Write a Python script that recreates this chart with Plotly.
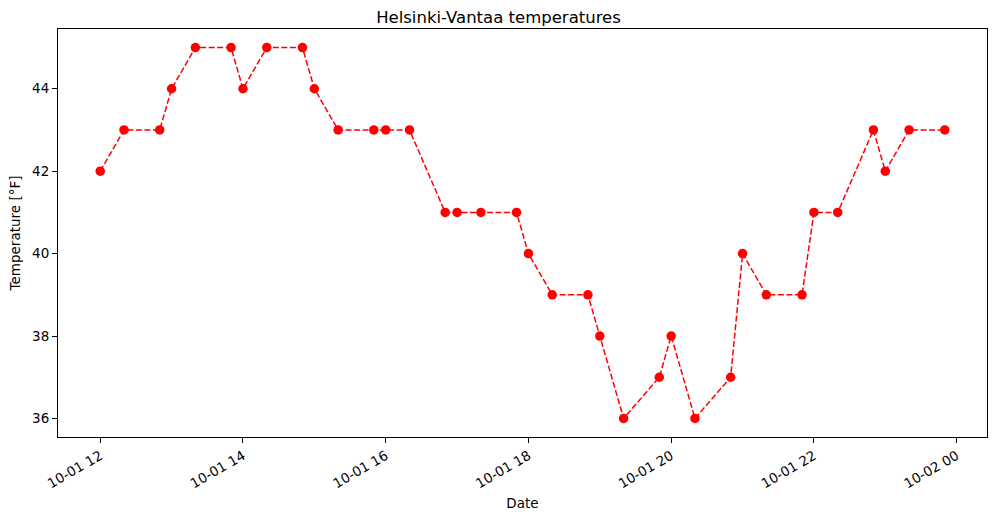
import plotly.graph_objects as go
import pandas as pd

times = ["2023-10-01 12:00", "2023-10-01 12:20", "2023-10-01 12:50", "2023-10-01 13:00",
         "2023-10-01 13:20", "2023-10-01 13:50", "2023-10-01 14:00", "2023-10-01 14:20",
         "2023-10-01 14:50", "2023-10-01 15:00", "2023-10-01 15:20", "2023-10-01 15:50",
         "2023-10-01 16:00", "2023-10-01 16:20", "2023-10-01 16:50", "2023-10-01 17:00",
         "2023-10-01 17:20", "2023-10-01 17:50", "2023-10-01 18:00", "2023-10-01 18:20",
         "2023-10-01 18:50", "2023-10-01 19:00", "2023-10-01 19:20", "2023-10-01 19:50",
         "2023-10-01 20:00", "2023-10-01 20:20", "2023-10-01 20:50", "2023-10-01 21:00",
         "2023-10-01 21:20", "2023-10-01 21:50", "2023-10-01 22:00", "2023-10-01 22:20",
         "2023-10-01 22:50", "2023-10-01 23:00", "2023-10-01 23:20", "2023-10-01 23:50"]
temps_f = [42, 43, 43, 44, 45, 45, 44, 45, 45, 44, 43, 43, 43, 43, 41, 41, 41, 41, 40, 39,
           39, 38, 36, 37, 38, 36, 37, 40, 39, 39, 41, 41, 43, 42, 43, 43]
y_ticks = [36, 38, 40, 42, 44]

t = pd.to_datetime(times)
span = t.max() - t.min()
x_range = [t.min() - span * 0.05, t.max() + span * 0.05]
ymin, ymax = min(temps_f), max(temps_f)
ypad = (ymax - ymin) * 0.05

font = "DejaVu Sans, Arial, sans-serif"

fig = go.Figure(go.Scatter(
    x=t, y=temps_f, mode="lines+markers",
    line=dict(color="#ff0000", dash="6px,2.5px", width=1.5),
    marker=dict(color="#ff0000", size=9.5),
))

fig.update_layout(
    width=997, height=520,
    margin=dict(l=58, r=10, t=29, b=83),
    paper_bgcolor="white", plot_bgcolor="white",
    font=dict(family=font, size=13.5, color="black"),
    title=dict(text="Helsinki-Vantaa temperatures", x=0.5, xanchor="center",
               y=1 - 17 / 520, yanchor="middle", font=dict(size=16.5, family=font)),
    showlegend=False,
)
fig.update_xaxes(
    range=x_range, type="date", dtick=2 * 3600 * 1000, tick0="2023-10-01 00:00",
    tickformat="%m-%d %H", tickangle=-30,
    showgrid=False, zeroline=False,
    showline=True, linecolor="black", linewidth=1, mirror=True,
    ticks="outside", ticklen=5, tickcolor="black",
    title=dict(text="Date", font=dict(size=13.5), standoff=8),
)
fig.update_yaxes(
    range=[ymin - ypad, ymax + ypad], tickvals=y_ticks,
    showgrid=False, zeroline=False,
    showline=True, linecolor="black", linewidth=1, mirror=True,
    ticks="outside", ticklen=5, tickcolor="black",
    title=dict(text="Temperature [°F]", font=dict(size=13.5), standoff=8),
)

fig.write_html("out.html")
